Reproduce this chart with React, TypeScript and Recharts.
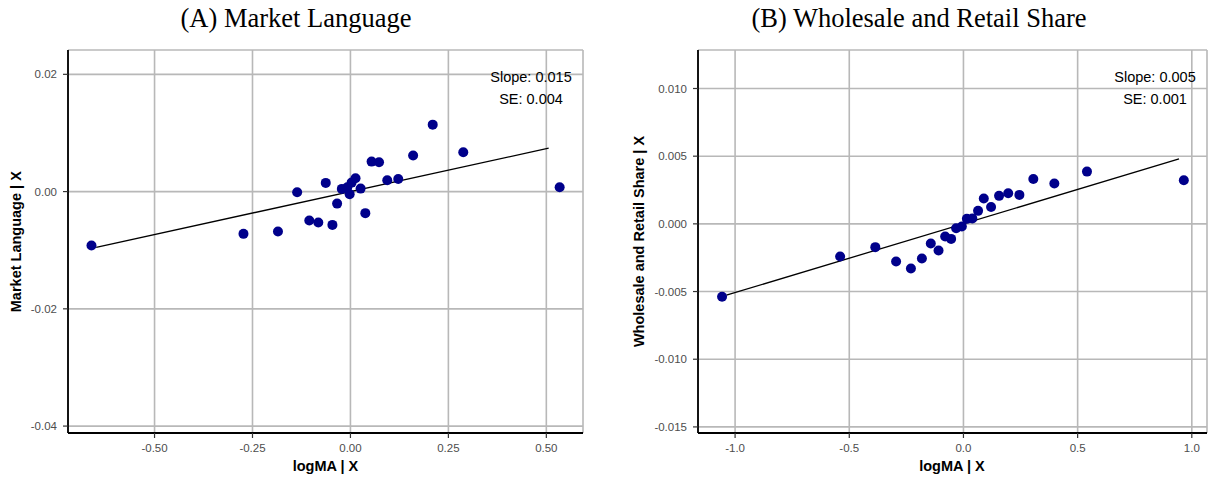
import React from "react";
import { ScatterChart, Scatter, XAxis, YAxis, CartesianGrid, ReferenceLine } from "recharts";

// ---- Panel A: Market Language ----
const leftX = [-0.661, -0.273, -0.185, -0.136, -0.105, -0.082, -0.063, -0.046, -0.034, -0.022, -0.008, -0.002, 0.003, 0.013, 0.026, 0.038, 0.054, 0.073, 0.094, 0.122, 0.16, 0.21, 0.288, 0.534];
const leftY = [-0.0092, -0.00721, -0.00682, -0.0001, -0.00494, -0.00528, 0.00148, -0.00568, -0.00205, 0.00046, 0.00075, -0.00044, 0.00153, 0.00228, 0.00051, -0.00368, 0.00511, 0.00501, 0.00194, 0.00216, 0.00614, 0.01142, 0.00672, 0.00075];
const leftFitX = [-0.649, 0.506];
const leftFitY = [-0.0095, 0.0074];
const leftXTicks = [-0.5, -0.25, 0, 0.25, 0.5];
const leftYTicks = [0.02, 0, -0.02, -0.04];
const leftXDomain = [-0.7209, 0.5936];
const leftYDomain = [-0.04118, 0.02415];

// ---- Panel B: Wholesale and Retail Share ----
const rightX = [-1.057, -0.54, -0.386, -0.295, -0.23, -0.182, -0.143, -0.109, -0.08, -0.054, -0.032, -0.007, 0.015, 0.039, 0.064, 0.089, 0.121, 0.156, 0.196, 0.245, 0.306, 0.398, 0.541, 0.965];
const rightY = [-0.00539, -0.00241, -0.00172, -0.00278, -0.0033, -0.00256, -0.00145, -0.00197, -0.00094, -0.00111, -0.00032, -0.0002, 0.00037, 0.00039, 0.00096, 0.00187, 0.00125, 0.00207, 0.00226, 0.00214, 0.00332, 0.00298, 0.00386, 0.00322];
const rightFitX = [-1.038, 0.944];
const rightFitY = [-0.00527, 0.0048];
const rightXTicks = [-1.0, -0.5, 0, 0.5, 1.0];
const rightYTicks = [0.01, 0.005, 0, -0.005, -0.01, -0.015];
const rightXDomain = [-1.1624, 1.0665];
const rightYDomain = [-0.01545, 0.012844];

const titles = ["(A) Market Language", "(B) Wholesale and Retail Share"];
const yTitles = ["Market Language | X", "Wholesale and Retail Share | X"];
const xTitle = "logMA | X";
const notes = [["Slope: 0.015", "SE: 0.004"], ["Slope: 0.005", "SE: 0.001"]];

const SANS = "'Liberation Sans', Arial, Helvetica, sans-serif";
const SERIF = "'Liberation Serif', 'Times New Roman', serif";
const DOT = "#00008B";
const GRID = "#B8B8B8";

const Dot = (props: any) => {
  if (props.cx == null || props.cy == null) return null;
  return <circle cx={props.cx} cy={props.cy} r={5} fill={DOT} />;
};

const tickStyle = { fontSize: 11.5, fill: "#4D4D4D", fontFamily: SANS };

function Panel(props: {
  xs: number[]; ys: number[]; fitX: number[]; fitY: number[];
  xTicks: number[]; yTicks: number[]; xDomain: number[]; yDomain: number[];
  width: number; yAxisWidth: number; rightMargin: number; xDec: number; yDec: number;
}) {
  const data = props.xs.map((x, i) => ({ x, y: props.ys[i] }));
  return (
    <ScatterChart width={props.width} height={480} margin={{ top: 50, right: props.rightMargin, bottom: 0, left: 0 }}>
      <CartesianGrid stroke={GRID} strokeWidth={1.6} />
      <XAxis
        type="number" dataKey="x" domain={props.xDomain} ticks={props.xTicks} allowDataOverflow
        height={47} tickSize={5} tickMargin={6}
        tickFormatter={(v: number) => v.toFixed(props.xDec)}
        tick={tickStyle}
        stroke="#000"
        axisLine={{ stroke: "#000", strokeWidth: 1.8 }}
        tickLine={{ stroke: "#333", strokeWidth: 1.2 }}
      />
      <YAxis
        type="number" dataKey="y" domain={props.yDomain} ticks={props.yTicks} allowDataOverflow
        width={props.yAxisWidth} tickSize={5} tickMargin={6}
        tickFormatter={(v: number) => v.toFixed(props.yDec)}
        tick={tickStyle}
        stroke="#000"
        axisLine={{ stroke: "#000", strokeWidth: 1.8 }}
        tickLine={{ stroke: "#333", strokeWidth: 1.2 }}
      />
      <ReferenceLine
        segment={[{ x: props.fitX[0], y: props.fitY[0] }, { x: props.fitX[1], y: props.fitY[1] }]}
        stroke="#000" strokeWidth={1.3} ifOverflow="visible"
      />
      <Scatter data={data} shape={Dot} isAnimationActive={false} />
    </ScatterChart>
  );
}

export default function App() {
  return (
    <div style={{ position: "absolute", left: 0, top: 0, width: 1209, height: 480, background: "#fff", overflow: "hidden" }}>
      <div style={{ position: "absolute", left: 0, top: 0 }}>
        <Panel xs={leftX} ys={leftY} fitX={leftFitX} fitY={leftFitY} xTicks={leftXTicks} yTicks={leftYTicks}
          xDomain={leftXDomain} yDomain={leftYDomain} width={600} yAxisWidth={68} rightMargin={17} xDec={2} yDec={2} />
      </div>
      <div style={{ position: "absolute", left: 600, top: 0 }}>
        <Panel xs={rightX} ys={rightY} fitX={rightFitX} fitY={rightFitY} xTicks={rightXTicks} yTicks={rightYTicks}
          xDomain={rightXDomain} yDomain={rightYDomain} width={609} yAxisWidth={98} rightMargin={2} xDec={1} yDec={3} />
      </div>
      <svg width={1209} height={480} style={{ position: "absolute", left: 0, top: 0, pointerEvents: "none" }}>
        <text x={296} y={27} textAnchor="middle" fontFamily={SERIF} fontSize={26.5} fill="#000">{titles[0]}</text>
        <text x={919} y={27} textAnchor="middle" fontFamily={SERIF} fontSize={26.5} fill="#000">{titles[1]}</text>
        <text x={325.5} y={471} textAnchor="middle" fontFamily={SANS} fontWeight="bold" fontSize={14.5} fill="#000">{xTitle}</text>
        <text x={952} y={471} textAnchor="middle" fontFamily={SANS} fontWeight="bold" fontSize={14.5} fill="#000">{xTitle}</text>
        <text transform="translate(21,241.7) rotate(-90)" textAnchor="middle" fontFamily={SANS} fontWeight="bold" fontSize={14.5} fill="#000">{yTitles[0]}</text>
        <text transform="translate(644,241.5) rotate(-90)" textAnchor="middle" fontFamily={SANS} fontWeight="bold" fontSize={14.5} fill="#000">{yTitles[1]}</text>
        <text x={531} y={82} textAnchor="middle" fontFamily={SANS} fontSize={14.5} fill="#000">{notes[0][0]}</text>
        <text x={531} y={104} textAnchor="middle" fontFamily={SANS} fontSize={14.5} fill="#000">{notes[0][1]}</text>
        <text x={1155} y={82} textAnchor="middle" fontFamily={SANS} fontSize={14.5} fill="#000">{notes[1][0]}</text>
        <text x={1155} y={104} textAnchor="middle" fontFamily={SANS} fontSize={14.5} fill="#000">{notes[1][1]}</text>
      </svg>
    </div>
  );
}
